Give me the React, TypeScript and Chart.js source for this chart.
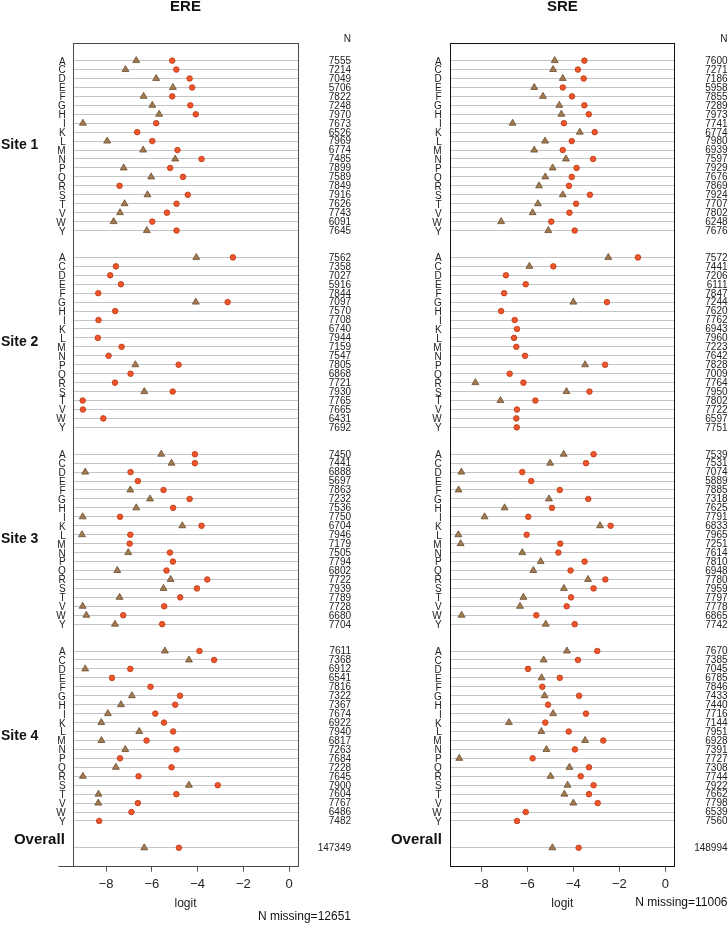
import React, { useEffect, useRef } from "react";
import { Chart, registerables } from "chart.js";

Chart.register(...registerables);
Chart.defaults.font.family = '"Liberation Sans", Arial, Helvetica, sans-serif';

const letters = ["A", "C", "D", "E", "F", "G", "H", "I", "K", "L", "M", "N", "P", "Q", "R", "S", "T", "V", "W", "Y"];
const siteNames = ["Site 1", "Site 2", "Site 3", "Site 4"];
const xTickValues = [-8, -6, -4, -2, 0];

// ERE: triangles (brown) and circles (orange), logit, per site, in letter order
const ereTriangle1 = [-6.68, -7.15, -5.81, -5.08, -6.36, -5.98, -5.68, -9.01, null, -7.95, -6.38, -4.98, -7.23, -6.03, null, -6.19, -7.19, -7.39, -7.67, -6.22];
const ereCircle1 = [-5.11, -4.93, -4.35, -4.24, -5.11, -4.32, -4.08, -5.81, -6.64, -5.98, -4.88, -3.83, -5.2, -4.64, -7.41, -4.43, -4.92, -5.34, -5.98, -4.92];
const ereTriangle2 = [-4.06, null, null, null, null, -4.08, null, null, null, null, null, null, -6.72, null, null, -6.33, null, null, null, null];
const ereCircle2 = [-2.46, -7.57, -7.82, -7.35, -8.34, -2.69, -7.6, -8.33, null, -8.36, -7.32, -7.89, -4.83, -6.93, -7.61, -5.09, -9.02, -9.01, -8.12, null];
const ereTriangle3 = [-5.59, -5.14, -8.91, null, -6.94, -6.08, -6.68, -9.02, -4.67, -9.05, null, -7.03, null, -7.51, -5.18, -5.49, -7.41, -9.02, -8.86, -7.61];
const ereCircle3 = [-4.12, -4.12, -6.93, -6.61, -5.49, -4.35, -5.07, -7.39, -3.83, -6.94, -6.97, -5.21, -5.08, -5.36, -3.58, -4.03, -4.76, -5.46, -7.25, -5.55];
const ereTriangle4 = [-5.43, -4.38, -8.91, null, null, -6.87, -7.35, -7.92, -8.21, -6.55, -8.2, -7.16, null, -7.57, -9.01, -4.38, -8.33, -8.34, null, null];
const ereCircle4 = [-3.92, -3.28, -6.94, -7.74, -6.06, -4.77, -4.98, -5.85, -5.47, -5.07, -6.23, -4.92, -7.39, -5.14, -6.58, -3.12, -4.93, -6.61, -6.89, -8.3];
const ereOverallTriangle = -6.33;
const ereOverallCircle = -4.82;

const ereN1 = [7555, 7214, 7049, 5706, 7822, 7248, 7970, 7673, 6526, 7969, 6774, 7485, 7899, 7589, 7849, 7916, 7626, 7743, 6091, 7645];
const ereN2 = [7562, 7358, 7027, 5916, 7844, 7097, 7570, 7708, 6740, 7944, 7159, 7547, 7805, 6868, 7721, 7930, 7765, 7665, 6431, 7692];
const ereN3 = [7450, 7441, 6888, 5697, 7863, 7232, 7536, 7750, 6704, 7946, 7179, 7505, 7794, 6802, 7722, 7939, 7789, 7728, 6680, 7704];
const ereN4 = [7611, 7368, 6912, 6541, 7816, 7322, 7367, 7674, 6922, 7940, 6817, 7263, 7684, 7228, 7645, 7900, 7604, 7767, 6486, 7482];
const ereOverallN = 147349;
const ereMissing = 12651;

// SRE
const sreTriangle1 = [-4.81, -4.88, -4.46, -5.7, -5.32, -4.61, -4.52, -6.64, -3.72, -5.23, -5.7, -4.32, -4.9, -5.22, -5.49, -4.46, -5.54, -5.77, -7.14, -5.09];
const sreCircle1 = [-3.52, -3.8, -3.55, -4.46, -4.06, -3.52, -3.33, -4.41, -3.07, -4.07, -4.46, -3.14, -3.86, -4.07, -4.19, -3.28, -3.88, -4.17, -4.96, -3.94];
const sreTriangle2 = [-2.48, -5.91, null, null, null, -4.0, null, null, null, null, null, null, -3.49, null, -8.26, -4.3, -7.17, null, null, null];
const sreCircle2 = [-1.19, -4.87, -6.93, -6.07, -7.01, -2.54, -7.14, -6.55, -6.45, -6.58, -6.48, -6.1, -2.62, -6.77, -6.17, -3.3, -5.65, -6.45, -6.48, -6.46];
const sreTriangle3 = [-4.42, -5.01, -8.87, null, -8.99, -5.06, -6.99, -7.86, -2.84, -9.0, -8.9, -6.22, -5.42, -5.74, -3.36, -4.41, -6.17, -6.32, -8.86, -5.2];
const sreCircle3 = [-3.12, -3.45, -6.22, -5.83, -4.59, -3.35, -4.93, -5.96, -2.38, -6.03, -4.57, -4.65, -3.51, -4.12, -2.61, -3.12, -4.1, -4.29, -5.61, -3.94];
const sreTriangle4 = [-4.28, -5.29, null, -5.38, null, -5.25, null, -4.88, -6.8, -5.39, -3.49, -5.17, -8.96, -4.17, -4.99, -4.25, -4.39, -4.0, null, null];
const sreCircle4 = [-2.96, -3.8, -5.97, -4.59, -5.35, -3.75, -5.1, -3.45, -5.22, -4.2, -2.7, -3.93, -5.77, -3.32, -3.68, -3.12, -3.32, -2.94, -6.07, -6.45];
const sreOverallTriangle = -4.91;
const sreOverallCircle = -3.77;

const sreN1 = [7600, 7271, 7186, 5958, 7855, 7289, 7973, 7741, 6774, 7980, 6939, 7597, 7929, 7676, 7869, 7924, 7707, 7802, 6248, 7676];
const sreN2 = [7572, 7441, 7206, 6111, 7847, 7244, 7620, 7762, 6943, 7960, 7223, 7642, 7828, 7009, 7764, 7950, 7802, 7722, 6597, 7751];
const sreN3 = [7539, 7531, 7074, 5889, 7885, 7318, 7625, 7791, 6833, 7965, 7251, 7614, 7810, 6948, 7780, 7959, 7797, 7778, 6865, 7742];
const sreN4 = [7670, 7385, 7045, 6785, 7846, 7433, 7440, 7716, 7144, 7951, 6928, 7391, 7727, 7308, 7744, 7922, 7662, 7798, 6539, 7560];
const sreOverallN = 148994;
const sreMissing = 11006;

const ROWS_PER_SITE = 22;
const OVERALL_ROW = 88;
const FONT = '"Liberation Sans", Arial, Helvetica, sans-serif';

type Panel = {
  title: string;
  triangles: (number | null)[][];
  circles: (number | null)[][];
  ns: number[][];
  overallTri: number;
  overallCirc: number;
  overallN: number;
  missing: number;
  xMin: number;
  xMax: number;
  leftW: number;
  rightPad: number;
  labelPad: number;
  showSites: boolean;
  nRight: number;
  missingY: number;
  boxColor: string;
  axisExtend: number;
};

const rowIndex = (s: number, j: number) => s * ROWS_PER_SITE + j;

function overlay(p: Panel) {
  return {
    id: "overlay-" + p.title,
    afterDraw(chart: any) {
      const { ctx, chartArea: a } = chart;
      const y = chart.scales.y;
      ctx.save();
      // frame
      ctx.strokeStyle = p.boxColor;
      ctx.lineWidth = 1;
      const l = Math.round(a.left) + 0.5;
      const t = Math.round(a.top) + 0.5;
      const r = Math.round(a.right) + 0.5;
      const b = Math.round(a.bottom) + 0.5;
      ctx.strokeRect(l, t, r - l, b - t);
      if (p.axisExtend > 0) {
        ctx.beginPath();
        ctx.moveTo(l - p.axisExtend, b);
        ctx.lineTo(l, b);
        ctx.stroke();
      }
      ctx.fillStyle = "#111";
      // title
      ctx.font = `bold 15px ${FONT}`;
      ctx.textAlign = "center";
      ctx.textBaseline = "middle";
      ctx.fillText(p.title, (a.left + a.right) / 2, 6.5);
      // site labels
      if (p.showSites) {
        ctx.font = `bold 14px ${FONT}`;
        ctx.textAlign = "left";
        siteNames.forEach((name, s) => {
          ctx.fillText(name, 1, y.getPixelForValue(rowIndex(s, 9.5)));
        });
      }
      ctx.font = `bold 15px ${FONT}`;
      ctx.textAlign = "right";
      ctx.fillText("Overall", a.left - 8.5, y.getPixelForValue(OVERALL_ROW) - 8);
      // N column
      ctx.fillStyle = "#222";
      ctx.font = `10px ${FONT}`;
      ctx.textAlign = "right";
      ctx.fillText("N", p.nRight, a.top - 3.4);
      p.ns.forEach((arr, s) => {
        arr.forEach((n, j) => {
          ctx.fillText(String(n), p.nRight, y.getPixelForValue(rowIndex(s, j)) + 0.6);
        });
      });
      ctx.fillText(String(p.overallN), p.nRight, y.getPixelForValue(OVERALL_ROW) + 0.6);
      ctx.font = `12px ${FONT}`;
      ctx.fillStyle = "#111";
      ctx.fillText("N missing=" + p.missing, p.nRight, p.missingY);
      ctx.restore();
    },
  };
}

function buildConfig(p: Panel): any {
  const triData: { x: number; y: number }[] = [];
  const circData: { x: number; y: number }[] = [];
  p.triangles.forEach((arr, s) =>
    arr.forEach((v, j) => {
      if (v !== null) triData.push({ x: v, y: rowIndex(s, j) });
    })
  );
  p.circles.forEach((arr, s) =>
    arr.forEach((v, j) => {
      if (v !== null) circData.push({ x: v, y: rowIndex(s, j) });
    })
  );
  triData.push({ x: p.overallTri, y: OVERALL_ROW });
  circData.push({ x: p.overallCirc, y: OVERALL_ROW });

  const yTicks: number[] = [];
  for (let s = 0; s < siteNames.length; s++) for (let j = 0; j < letters.length; j++) yTicks.push(rowIndex(s, j));
  yTicks.push(OVERALL_ROW);

  return {
    type: "scatter",
    data: {
      datasets: [
        {
          data: circData,
          pointStyle: "circle",
          pointRadius: 2.8,
          backgroundColor: "#f0542a",
          borderColor: "#b83b17",
          borderWidth: 0.8,
        },
        {
          data: triData,
          pointStyle: "triangle",
          pointRadius: 4,
          backgroundColor: "#a27a4f",
          borderColor: "#6a4d2e",
          borderWidth: 0.8,
        },
      ],
    },
    options: {
      responsive: false,
      animation: false,
      devicePixelRatio: 1,
      events: [],
      layout: { padding: { top: 42.7, right: p.rightPad, left: 0, bottom: 0 } },
      plugins: { legend: { display: false }, tooltip: { enabled: false }, title: { display: false } },
      scales: {
        x: {
          type: "linear",
          min: p.xMin,
          max: p.xMax,
          afterBuildTicks: (sc: any) => {
            sc.ticks = xTickValues.map((v) => ({ value: v }));
          },
          afterFit: (sc: any) => {
            sc.height = 60.3;
          },
          grid: { drawOnChartArea: false, drawTicks: true, tickLength: 6, color: "#555", lineWidth: 1 },
          border: { display: false },
          ticks: {
            font: { size: 13 },
            color: "#222",
            padding: 5,
            maxRotation: 0,
            callback: (v: number) => String(v).replace("-", "\u2212"),
          },
          title: { display: true, text: "logit", font: { size: 12 }, color: "#222", padding: { top: 0, bottom: 15.5 } },
        },
        y: {
          type: "linear",
          min: -2,
          max: 90,
          reverse: true,
          afterBuildTicks: (sc: any) => {
            sc.ticks = yTicks.map((v) => ({ value: v }));
          },
          afterFit: (sc: any) => {
            sc.width = p.leftW;
          },
          grid: { drawOnChartArea: true, drawTicks: false, color: "#c4c4c4", lineWidth: 1 },
          border: { display: false },
          ticks: {
            autoSkip: false,
            font: { size: 10 },
            color: "#222",
            padding: p.labelPad,
            labelOffset: 1.2,
            callback: (v: number) => (v === OVERALL_ROW ? "" : letters[v % ROWS_PER_SITE] ?? ""),
          },
        },
      },
    },
    plugins: [overlay(p)],
  };
}

const erePanel: Panel = {
  title: "ERE",
  triangles: [ereTriangle1, ereTriangle2, ereTriangle3, ereTriangle4],
  circles: [ereCircle1, ereCircle2, ereCircle3, ereCircle4],
  ns: [ereN1, ereN2, ereN3, ereN4],
  overallTri: ereOverallTriangle,
  overallCirc: ereOverallCircle,
  overallN: ereOverallN,
  missing: ereMissing,
  xMin: -9.43,
  xMax: 0.37,
  leftW: 73.3,
  rightPad: 66.3,
  labelPad: 7.6,
  showSites: true,
  nRight: 351,
  missingY: 917,
  boxColor: "#4a4a4a",
  axisExtend: 15,
};

const srePanel: Panel = {
  title: "SRE",
  triangles: [sreTriangle1, sreTriangle2, sreTriangle3, sreTriangle4],
  circles: [sreCircle1, sreCircle2, sreCircle3, sreCircle4],
  ns: [sreN1, sreN2, sreN3, sreN4],
  overallTri: sreOverallTriangle,
  overallCirc: sreOverallCircle,
  overallN: sreOverallN,
  missing: sreMissing,
  xMin: -9.35,
  xMax: 0.39,
  leftW: 86.3,
  rightPad: 53.7,
  labelPad: 8.6,
  showSites: false,
  nRight: 363.5,
  missingY: 903,
  boxColor: "#111",
  axisExtend: 0,
};

function PanelChart({ panel }: { panel: Panel }) {
  const ref = useRef<HTMLCanvasElement | null>(null);
  useEffect(() => {
    if (!ref.current) return;
    const chart = new Chart(ref.current, buildConfig(panel));
    return () => chart.destroy();
  }, [panel]);
  return <canvas ref={ref} width={364} height={926} style={{ display: "block", width: 364, height: 926 }} />;
}

export default function App() {
  return (
    <div style={{ position: "absolute", left: 0, top: 0, width: 728, height: 926, display: "flex", background: "#fff" }}>
      <PanelChart panel={erePanel} />
      <PanelChart panel={srePanel} />
    </div>
  );
}
